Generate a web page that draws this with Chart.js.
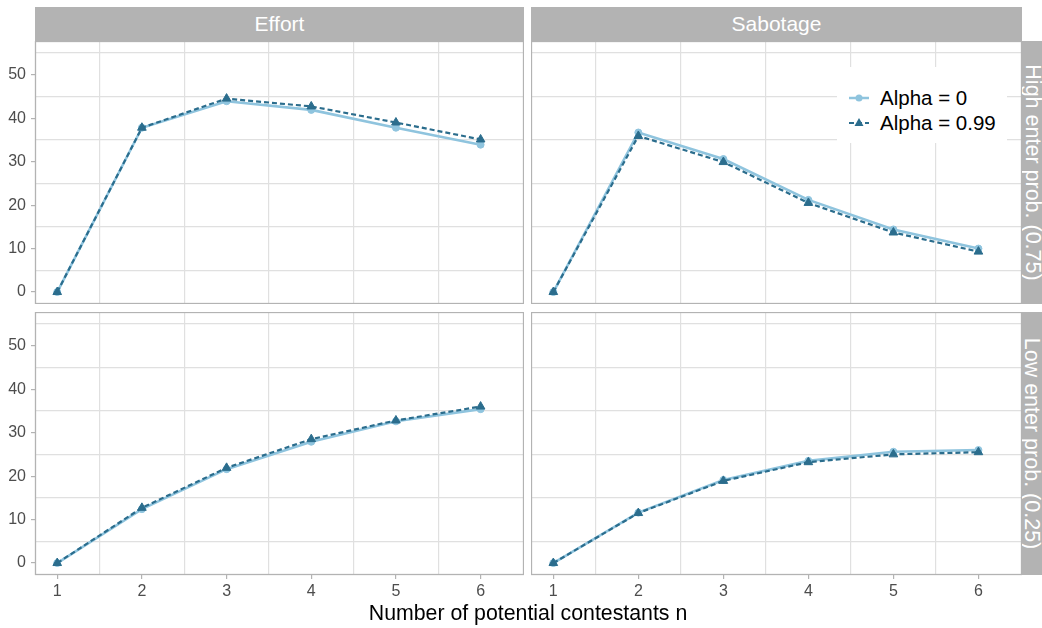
<!DOCTYPE html>
<html>
<head>
<meta charset="utf-8">
<script src="https://cdn.jsdelivr.net/npm/chart.js@4.4.1/dist/chart.umd.min.js"></script>
<style>
body { margin: 0; background: #fff; font-family: "Liberation Sans", Arial, sans-serif; }
#wrap { position: relative; width: 1042px; height: 628px; overflow: hidden; }
canvas, .strip, .legend, .axis-title { position: absolute; }
.strip { background: #b3b3b3; color: #fff; font-size: 21px; display: flex; align-items: center; justify-content: center; }
.strip.side span { transform: rotate(90deg); white-space: nowrap; display: block; font-size: 21.5px; }
.legend { background: #fff; left: 837px; top: 67px; width: 170px; height: 76px; }
.legend .row { position: absolute; left: 11px; height: 24px; display: flex; align-items: center; font-size: 20.5px; color: #000; }
.legend svg { margin-right: 10px; }
.axis-title { left: 228px; width: 600px; top: 601px; text-align: center; font-size: 21.3px; color: #000; }
</style>
</head>
<body>
<div id="wrap">
  <div class="strip" style="left:35px;top:7px;width:489px;height:34px;">Effort</div>
  <div class="strip" style="left:531px;top:7px;width:491px;height:34px;">Sabotage</div>
  <div class="strip side" style="left:1022px;top:41px;width:20px;height:263px;"><span>High enter prob. (0.75)</span></div>
  <div class="strip side" style="left:1022px;top:312px;width:20px;height:263px;"><span>Low enter prob. (0.25)</span></div>

  <canvas id="tl" width="524" height="263" style="left:0;top:41px;"></canvas>
  <canvas id="tr" width="491" height="263" style="left:531px;top:41px;"></canvas>
  <canvas id="bl" width="524" height="293" style="left:0;top:312px;"></canvas>
  <canvas id="br" width="491" height="293" style="left:531px;top:312px;"></canvas>

  <div class="legend">
    <div class="row" style="top:19px;">
      <svg width="22" height="20"><line x1="1" y1="10" x2="21" y2="10" stroke="#8fc4de" stroke-width="2.5"/><circle cx="11" cy="10" r="3.5" fill="#8fc4de"/></svg>
      <span id="lg0"></span>
    </div>
    <div class="row" style="top:44px;">
      <svg width="22" height="20"><line x1="1" y1="10" x2="21" y2="10" stroke="#2b6d8d" stroke-width="2" stroke-dasharray="5 3"/><polygon points="11,5 15.5,13 6.5,13" fill="#2b6d8d"/></svg>
      <span id="lg1"></span>
    </div>
  </div>
  <div class="axis-title">Number of potential contestants n</div>
</div>

<script>
// Data
const nValues = [1, 2, 3, 4, 5, 6];
const legendLabels = ['Alpha = 0', 'Alpha = 0.99'];

const effortHigh0  = [0, 37.8, 43.9, 41.9, 37.8, 33.9];
const effortHigh99 = [0, 37.8, 44.5, 42.7, 39.0, 35.1];
const sabHigh0     = [0, 36.7, 30.6, 21.2, 14.4, 10.0];
const sabHigh99    = [0, 35.9, 29.9, 20.5, 13.7, 9.3];
const effortLow0   = [0, 12.4, 21.6, 27.9, 32.6, 35.4];
const effortLow99  = [0, 12.7, 21.9, 28.5, 32.8, 36.0];
const sabLow0      = [0, 11.6, 19.1, 23.5, 25.6, 26.0];
const sabLow99     = [0, 11.5, 18.9, 23.2, 25.0, 25.5];

const yTickLabels = [0, 10, 20, 30, 40, 50];
const yGridLines  = [5, 15, 25, 35, 45, 55];
const xGridLines  = [1.5, 2.5, 3.5, 4.5, 5.5];

const lightBlue = '#8fc4de';
const darkBlue = '#2b6d8d';
const gridColor = '#e0e0e0';
const frameColor = '#b3b3b3';

document.getElementById('lg0').textContent = legendLabels[0];
document.getElementById('lg1').textContent = legendLabels[1];

function toPoints(values) {
    return values.map((v, i) => ({ x: nValues[i], y: v }));
}

// ggplot style panel border on top of everything
const panelBorder = {
    id: 'panelBorder',
    afterDraw(chart) {
        const a = chart.chartArea;
        const ctx = chart.ctx;
        ctx.save();
        ctx.strokeStyle = frameColor;
        ctx.lineWidth = 1.3;
        ctx.strokeRect(a.left + 0.5, a.top + 0.5, a.right - a.left - 1, a.bottom - a.top - 1);
        ctx.restore();
    }
};

function makePanel(id, light, dark, showY, showX) {
    const tickFont = { family: '"Liberation Sans", Arial, sans-serif', size: 16 };
    return new Chart(document.getElementById(id), {
        type: 'line',
        data: {
            datasets: [{
                label: legendLabels[1],
                data: toPoints(dark),
                borderColor: darkBlue,
                backgroundColor: darkBlue,
                borderWidth: 2.2,
                borderDash: [5, 3],
                pointStyle: 'triangle',
                pointRadius: 5,
                pointBorderWidth: 1,
                order: 0
            }, {
                label: legendLabels[0],
                data: toPoints(light),
                borderColor: lightBlue,
                backgroundColor: lightBlue,
                borderWidth: 2.6,
                pointStyle: 'circle',
                pointRadius: 3.5,
                pointBorderWidth: 1,
                order: 1
            }]
        },
        options: {
            responsive: false,
            animation: false,
            devicePixelRatio: 1,
            layout: { padding: 0, autoPadding: false },
            plugins: { legend: { display: false }, tooltip: { enabled: false } },
            scales: {
                x: {
                    type: 'linear',
                    min: 0.7375,
                    max: 6.5125,
                    afterBuildTicks: s => {
                        s.ticks = nValues.concat(xGridLines).sort((a, b) => a - b).map(v => ({ value: v }));
                    },
                    afterFit: s => {
                        s.height = showX ? 30 : 0;
                        s.paddingLeft = 0;
                        s.paddingRight = 0;
                    },
                    border: { display: false },
                    grid: {
                        color: c => (c.tick && Number.isInteger(c.tick.value)) ? 'transparent' : gridColor,
                        tickColor: c => (c.tick && Number.isInteger(c.tick.value)) ? frameColor : 'transparent',
                        lineWidth: 1.2,
                        drawTicks: showX,
                        tickLength: 4
                    },
                    ticks: {
                        display: showX,
                        autoSkip: false,
                        maxRotation: 0,
                        padding: 3,
                        color: '#4d4d4d',
                        font: tickFont,
                        callback: v => nValues.includes(v) ? String(v) : ''
                    }
                },
                y: {
                    type: 'linear',
                    min: -2.75,
                    max: 57.75,
                    afterBuildTicks: s => {
                        s.ticks = yTickLabels.concat(yGridLines).sort((a, b) => a - b).map(v => ({ value: v }));
                    },
                    afterFit: s => {
                        s.width = showY ? 35 : 0;
                        s.paddingTop = 0;
                        s.paddingBottom = 0;
                    },
                    border: { display: false },
                    grid: {
                        color: c => (c.tick && yTickLabels.includes(c.tick.value)) ? 'transparent' : gridColor,
                        tickColor: c => (c.tick && yTickLabels.includes(c.tick.value)) ? frameColor : 'transparent',
                        lineWidth: 1.2,
                        drawTicks: showY,
                        tickLength: 4
                    },
                    ticks: {
                        display: showY,
                        autoSkip: false,
                        padding: 5,
                        color: '#4d4d4d',
                        font: tickFont,
                        callback: v => yTickLabels.includes(v) ? String(v) : ''
                    }
                }
            }
        },
        plugins: [panelBorder]
    });
}

makePanel('tl', effortHigh0, effortHigh99, true, false);
makePanel('tr', sabHigh0, sabHigh99, false, false);
makePanel('bl', effortLow0, effortLow99, true, true);
makePanel('br', sabLow0, sabLow99, false, true);
</script>
</body>
</html>
